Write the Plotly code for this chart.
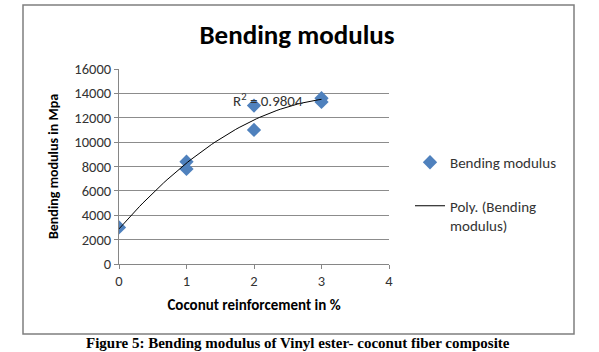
import numpy as np
import plotly.graph_objects as go

reinforcement = [0, 1, 1, 2, 2, 3, 3]
modulus = [3000, 8400, 7800, 13000, 11000, 13600, 13300]
x_ticks = [0, 1, 2, 3, 4]
y_ticks = [0, 2000, 4000, 6000, 8000, 10000, 12000, 14000, 16000]
r2_text = "R<sup>2</sup> = 0.9804"

coef = np.polyfit(reinforcement, modulus, 2)
xf = np.linspace(0, 3, 60)
yf = np.polyval(coef, xf)

fig = go.Figure()
fig.add_trace(go.Scatter(x=reinforcement, y=modulus, mode="markers", name="Bending modulus",
                         legendgroup="a",
                         marker=dict(symbol="diamond", size=11, color="#4F81BD")))
fig.add_trace(go.Scatter(x=xf, y=yf, mode="lines", name="Poly. (Bending<br>modulus)",
                         legendgroup="b",
                         line=dict(color="black", width=1)))

font = "Calibri, Carlito, 'Open Sans', sans-serif"
fig.update_layout(
    width=599, height=352,
    margin=dict(l=119, r=210, t=69, b=88),
    paper_bgcolor="white", plot_bgcolor="white",
    font=dict(family=font, size=14, color="black"),
    title=dict(text="<b>Bending modulus</b>", x=297/599, xanchor="center",
               y=1-35/352, yanchor="middle", font=dict(size=27, family=font)),
    showlegend=True,
    legend=dict(x=(410-119)/270, xref="paper", y=(264-146)/195, yanchor="top",
                font=dict(size=15, color="#333"), traceorder="grouped", valign="top",
                tracegroupgap=21, bgcolor="rgba(0,0,0,0)"),
    xaxis=dict(range=[0, 4], tickvals=x_ticks, showgrid=False, showline=True, linecolor="#868686",
               ticks="outside", ticklen=4, tickcolor="#868686", zeroline=False,
               tickfont=dict(size=14.5, color="#333"),
               title=dict(text="<b>Coconut reinforcement in %</b>", font=dict(size=15), standoff=10)),
    yaxis=dict(range=[0, 16000], tickvals=y_ticks, ticktext=[str(v) for v in y_ticks],
               showgrid=True, gridcolor="#8c8c8c", gridwidth=1,
               showline=True, linecolor="#868686", ticks="outside", ticklen=4, tickcolor="#868686",
               zeroline=False, tickfont=dict(size=14.5, color="#333"),
               title=dict(text="<b>Bending modulus in Mpa</b>", font=dict(size=14), standoff=12)),
    shapes=[dict(type="rect", xref="paper", yref="paper", x0=(23-119)/270, x1=(574-119)/270,
                 y0=(264-334)/195, y1=(264-5)/195, line=dict(color="#7f7f7f", width=1.5))],
    annotations=[
        dict(text=r2_text, x=2.2, y=13450, showarrow=False, font=dict(size=15, color="#333")),
        dict(text="<b>Figure 5: Bending modulus of Vinyl ester- coconut fiber composite</b>",
             xref="paper", yref="paper", x=(298-119)/270, y=(264-343)/195, showarrow=False,
             xanchor="center", yanchor="middle",
             font=dict(family="Liberation Serif, Times New Roman, serif", size=15, color="black")),
    ],
)
fig.write_html("out.html")
